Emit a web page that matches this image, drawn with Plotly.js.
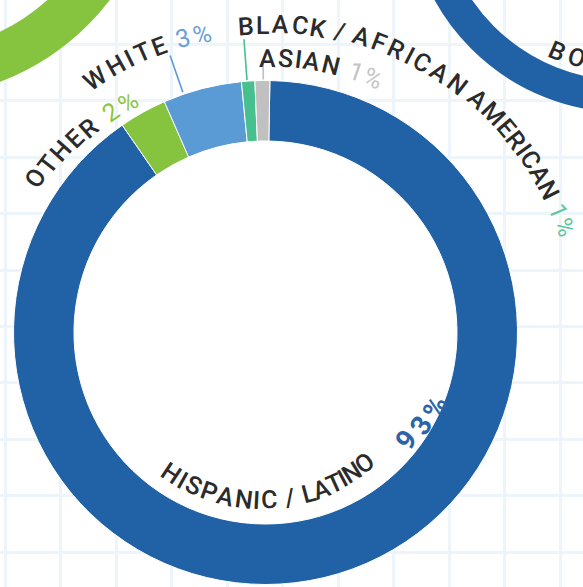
<!DOCTYPE html>
<html>
<head>
<meta charset="utf-8">
<script src="https://cdn.plot.ly/plotly-3.0.1.min.js"></script>
<style>html,body{margin:0;padding:0;background:#fff;}#chart{width:583px;height:587px;}</style>
</head>
<body>
<div id="chart"></div>
<script>
// ---- DATA ----
const categories = ['HISPANIC / LATINO', 'OTHER', 'WHITE', 'BLACK / AFRICAN AMERICAN', 'ASIAN'];
const sliceValues = [90.1, 3.05, 5.05, 0.85, 0.95];      // slice sizes as drawn
const percentLabels = ['93%', '2%', '3%', '1%', '1%'];  // printed labels

// ---- STYLE ----
const sliceColors = ['#2161a6', '#86c440', '#5b9bd5', '#48bf8e', '#c0c0c0'];
const pctColors = ['#2e63a8', '#8cc63f', '#6b9fd6', '#5fc79c', '#c4c4c4'];
const textColor = '#2b2b2b';
const FONT = 'Roboto';
const W = 583, H = 587;
const cx = 265.5, cy = 332.5, R = 252, HOLE = 0.76;

// label placement along arcs: anchors [charIndex, angle(deg, clockwise from top), radius]
const labelLayout = [
  {cat: 0, inside: true, size: 25, pctSize: 28, pctWeight: 700,
   anchors: [[0, 213.7, 170], [7, 178.8, 167.5], [11, 164.9, 167], [16, 143, 164], [18, 127.2, 177], [20, 113.6, 186]]},
  {cat: 1, size: 25, pctSize: 25, anchors: [[0, -56.2, 277], [4, -40.9, 270], [7, -30.8, 268]]},
  {cat: 2, size: 25, pctSize: 25, anchors: [[0, -33.8, 306], [7, -12.0, 305]], leader: [-19, 254, 293]},
  {cat: 3, size: 25, pctSize: 24, anchors: [[0, -3.6, 307], [4, 9.8, 309], [8, 18, 311], [14, 37.7, 313], [16, 42.4, 315], [26, 70.6, 317]], leader: [-4.2, 253, 294]},
  {cat: 4, size: 25, pctSize: 25, anchors: [[0, 0.5, 274.5], [7, 22.9, 276]], leader: [-0.5, 253, 269]}
];

const ctx = document.createElement('canvas').getContext('2d');
function measure(ch, size, weight) {
  ctx.font = weight + ' ' + size + 'px ' + FONT;
  return ctx.measureText(ch).width;
}
function pt(theta, r, ocx, ocy) {
  const a = theta * Math.PI / 180;
  return [ocx + r * Math.sin(a), ocy - r * Math.cos(a)];
}

const annotations = [];
const shapes = [];

function placeArcText(chars, anchors, inside, ocx, ocy) {
  const widths = chars.map(c => measure(c.ch, c.size, c.weight));
  const s = [];
  let acc = 0;
  widths.forEach((w) => { s.push(acc + w / 2); acc += w; });
  chars.forEach((c, i) => {
    if (c.ch === ' ') return;
    let k = 0;
    while (k < anchors.length - 2 && i > anchors[k + 1][0]) k++;
    const a0 = anchors[k], a1 = anchors[k + 1];
    const s0 = s[a0[0]], s1 = s[a1[0]];
    const t = (s[i] - s0) / (s1 - s0);
    const th = a0[1] + t * (a1[1] - a0[1]);
    const r = a0[2] + t * (a1[2] - a0[2]);
    const p = pt(th, r, ocx, ocy);
    annotations.push({
      xref: 'x', yref: 'y', x: p[0], y: p[1], text: c.ch, showarrow: false,
      textangle: inside ? th - 180 : th, xanchor: 'center', yanchor: 'middle', borderpad: 0,
      font: {family: FONT, size: c.size, color: c.color, weight: c.weight}
    });
  });
}

labelLayout.forEach(L => {
  const chars = [];
  for (const ch of categories[L.cat]) chars.push({ch, size: L.size, weight: 500, color: textColor});
  chars.push({ch: ' ', size: L.size, weight: 500, color: textColor});
  for (const ch of percentLabels[L.cat]) chars.push({ch, size: L.pctSize, weight: L.pctWeight || 400, color: pctColors[L.cat]});
  placeArcText(chars, L.anchors, !!L.inside, cx, cy);
  if (L.leader) {
    const p0 = pt(L.leader[0], L.leader[1], cx, cy), p1 = pt(L.leader[0], L.leader[2], cx, cy);
    shapes.push({type: 'line', xref: 'x', yref: 'y', x0: p0[0], y0: p0[1], x1: p1[0], y1: p1[1],
      line: {color: sliceColors[L.cat], width: 1.6}, layer: 'between'});
  }
});

// neighbouring charts (partially visible)
const neighbourCharts = [
  {c: [-90, -153.5], r: 229, w: 46, color: '#86c440'},
  {c: [625, -105], r: 201.5, w: 32, color: '#2161a6'}
];
neighbourCharts.forEach(n => {
  shapes.push({type: 'circle', xref: 'x', yref: 'y', x0: n.c[0] - n.r, x1: n.c[0] + n.r,
    y0: n.c[1] - n.r, y1: n.c[1] + n.r, line: {color: n.color, width: n.w}, fillcolor: 'rgba(0,0,0,0)', layer: 'between'});
});
placeArcText([{ch: 'B', size: 25, weight: 500, color: textColor}, {ch: 'O', size: 25, weight: 500, color: textColor}],
  [[0, 203.4, 171], [1, 196.6, 170]], true, 625, -105);

// white hole disc
const rh = R * HOLE + 0.5;
shapes.push({type: 'circle', xref: 'x', yref: 'y', x0: cx - rh, x1: cx + rh, y0: cy - rh, y1: cy + rh,
  line: {width: 0}, fillcolor: '#ffffff', layer: 'between'});

const data = [
  {type: 'scatter', x: [], y: [], showlegend: false, hoverinfo: 'skip'},
  {
    type: 'pie', labels: categories, values: sliceValues, sort: false, direction: 'clockwise',
    rotation: 1, hole: HOLE, textinfo: 'none', hoverinfo: 'label+percent', showlegend: false,
    marker: {colors: sliceColors, line: {color: '#ffffff', width: 1}},
    domain: {x: [(cx - R) / W, (cx + R) / W], y: [(H - cy - R) / H, (H - cy + R) / H]}
  }
];

const gridColor = '#eef5fa';
const layout = {
  width: W, height: H, margin: {l: 0, r: 0, t: 0, b: 0, pad: 0},
  paper_bgcolor: '#ffffff', plot_bgcolor: '#ffffff', showlegend: false,
  xaxis: {range: [0, W], showgrid: true, gridcolor: gridColor, gridwidth: 3, tick0: 5, dtick: 55.5,
    showticklabels: false, zeroline: false, ticks: '', showline: false, fixedrange: true},
  yaxis: {range: [H, 0], showgrid: true, gridcolor: gridColor, gridwidth: 3, tick0: 552, dtick: 56.4,
    showticklabels: false, zeroline: false, ticks: '', showline: false, fixedrange: true},
  shapes: shapes, annotations: annotations
};

Plotly.newPlot('chart', data, layout, {displayModeBar: false, staticPlot: true});
</script>
</body>
</html>
